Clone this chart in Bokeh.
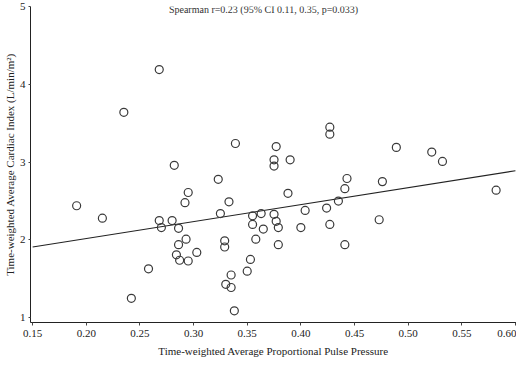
from bokeh.plotting import figure
from bokeh.models import FixedTicker, NumeralTickFormatter, Label, Range1d
from bokeh.embed import file_html
from bokeh.resources import INLINE

# Time-weighted average proportional pulse pressure
ppp = [0.268, 0.235, 0.427, 0.427, 0.339, 0.377, 0.489, 0.522, 0.375, 0.375,
       0.390, 0.532, 0.282, 0.323, 0.443, 0.476, 0.441, 0.295, 0.292, 0.333,
       0.388, 0.582, 0.435, 0.191, 0.424, 0.404, 0.325, 0.215, 0.473, 0.268,
       0.280, 0.270, 0.286, 0.355, 0.363, 0.355, 0.365, 0.375, 0.377, 0.379,
       0.400, 0.427, 0.358, 0.293, 0.286, 0.329, 0.329, 0.379, 0.441, 0.303,
       0.284, 0.287, 0.295, 0.353, 0.258, 0.350, 0.335, 0.330, 0.335, 0.338,
       0.242]
# Time-weighted average cardiac index (L/min/m2)
ci = [4.19, 3.64, 3.45, 3.36, 3.24, 3.20, 3.19, 3.13, 3.03, 2.95,
      3.03, 3.01, 2.96, 2.78, 2.79, 2.75, 2.66, 2.61, 2.48, 2.49,
      2.60, 2.64, 2.50, 2.44, 2.41, 2.38, 2.34, 2.28, 2.26, 2.25,
      2.25, 2.16, 2.15, 2.31, 2.34, 2.20, 2.14, 2.33, 2.24, 2.16,
      2.16, 2.20, 2.01, 2.01, 1.94, 1.99, 1.91, 1.94, 1.94, 1.84,
      1.81, 1.74, 1.73, 1.75, 1.63, 1.60, 1.55, 1.43, 1.39, 1.09,
      1.25]

# Fitted regression line end points
fit_x = [0.15, 0.60]
fit_y = [1.91, 2.89]

x_ticks = [0.15, 0.20, 0.25, 0.30, 0.35, 0.40, 0.45, 0.50, 0.55, 0.60]
y_ticks = [1, 2, 3, 4, 5]

annotation = "Spearman r=0.23 (95% CI 0.11, 0.35, p=0.033)"
x_title = "Time-weighted Average Proportional Pulse Pressure"
y_title = "Time-weighted Average Cardiac Index (L/min/m\u00b2)"

FONT = "Liberation Serif"

p = figure(width=516, height=362, output_backend="svg", toolbar_location=None,
           x_range=Range1d(0.148, 0.601), y_range=Range1d(0.94, 5.0),
           min_border_left=25, min_border_right=0, min_border_top=6,
           min_border_bottom=40)
p.outline_line_color = None
p.xgrid.visible = False
p.ygrid.visible = False
p.background_fill_color = "white"
p.border_fill_color = "white"

p.line(fit_x, fit_y, line_color="#222222", line_width=1.1)
p.scatter(ppp, ci, marker="circle", size=8, fill_alpha=0,
          line_color="#3a3a3a", line_width=1.2)

for ax in (p.xaxis[0], p.yaxis[0]):
    ax.axis_line_color = "#222222"
    ax.axis_line_width = 1
    ax.major_tick_line_color = "#444444"
    ax.major_tick_in = 0
    ax.major_tick_out = 3
    ax.minor_tick_line_color = None
    ax.major_label_text_font = FONT
    ax.major_label_text_font_size = "11px"
    ax.major_label_text_color = "#222222"
    ax.axis_label_text_font = FONT
    ax.axis_label_text_font_size = "11px"
    ax.axis_label_text_font_style = "normal"
    ax.axis_label_text_color = "#222222"

p.xaxis.ticker = FixedTicker(ticks=x_ticks)
p.xaxis.formatter = NumeralTickFormatter(format="0.00")
p.xaxis.major_label_standoff = 4
p.xaxis.axis_label = x_title
p.xaxis.axis_label_standoff = 5

p.yaxis.ticker = FixedTicker(ticks=y_ticks)
p.yaxis.major_tick_out = 2
p.yaxis.major_label_standoff = 3
p.yaxis.axis_label = y_title
p.yaxis.axis_label_standoff = 1

p.add_layout(Label(x=0.277, y=4.96, text=annotation, text_font=FONT,
                   text_font_size="10px", text_color="#333333",
                   text_baseline="middle"))

open("out.html", "w").write(file_html(p, INLINE))
